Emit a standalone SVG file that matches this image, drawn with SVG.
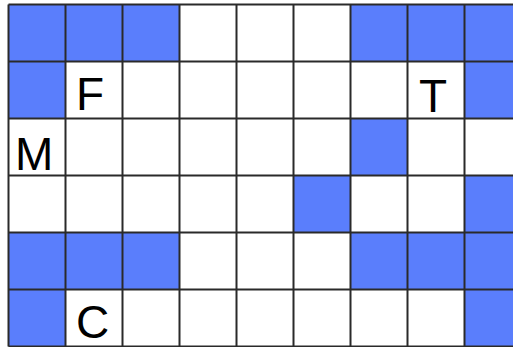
<svg xmlns="http://www.w3.org/2000/svg" width="513" height="347" viewBox="0 0 513 347">
<style>
.b{fill:#5a7efc}
.g{stroke:#2a2a2a;stroke-width:2;fill:none}
.t{font-family:"Liberation Sans",Arial,sans-serif;font-size:46px;fill:#000}
</style>
<rect width="513" height="347" fill="#fff"/>
<g id="blue">
<rect class="b" x="8.5" y="4.5" width="171" height="57"/>
<rect class="b" x="350.5" y="4.5" width="171" height="57"/>
<rect class="b" x="8.5" y="61.5" width="57" height="57"/>
<rect class="b" x="464.5" y="61.5" width="57" height="57"/>
<rect class="b" x="350.5" y="118.5" width="57" height="57"/>
<rect class="b" x="293.5" y="175.5" width="57" height="57"/>
<rect class="b" x="464.5" y="175.5" width="57" height="57"/>
<rect class="b" x="8.5" y="232.5" width="171" height="57"/>
<rect class="b" x="350.5" y="232.5" width="171" height="57"/>
<rect class="b" x="8.5" y="289.5" width="57" height="57"/>
<rect class="b" x="464.5" y="289.5" width="57" height="57"/>
</g>
<g id="grid" class="g">
<path d="M8.5 4.5V346.5M65.5 4.5V346.5M122.5 4.5V346.5M179.5 4.5V346.5M236.5 4.5V346.5M293.5 4.5V346.5M350.5 4.5V346.5M407.5 4.5V346.5M464.5 4.5V346.5M521.5 4.5V346.5"/>
<path d="M8.5 4.5H521.5M8.5 61.5H521.5M8.5 118.5H521.5M8.5 175.5H521.5M8.5 232.5H521.5M8.5 289.5H521.5M8.5 346.5H521.5"/>
</g>
<g id="labels">
<text class="t" x="76" y="110">F</text>
<text class="t" x="419" y="112">T</text>
<text class="t" x="15" y="170">M</text>
<text class="t" x="76" y="338">C</text>
</g>
</svg>
